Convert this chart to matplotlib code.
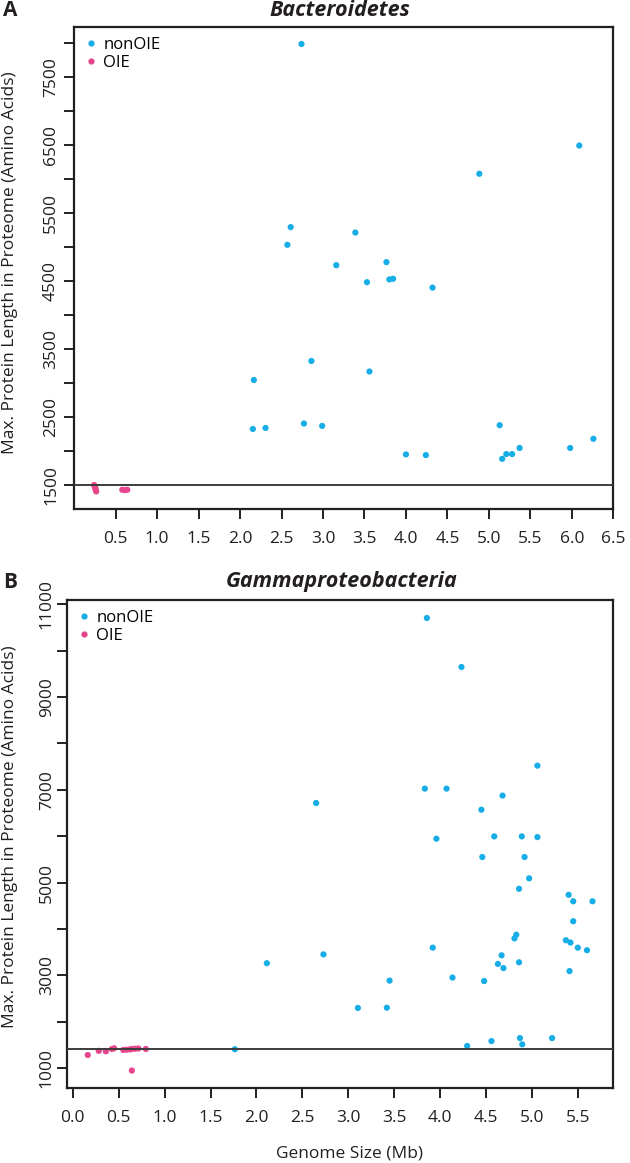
import matplotlib
matplotlib.use("Agg")
import matplotlib.pyplot as plt
from matplotlib.lines import Line2D

plt.rcParams['font.family'] = ['Open Sans', 'DejaVu Sans']

# ---------------- data ----------------
bact_non_x = [2.74, 6.09, 4.885, 2.61, 2.57, 3.39, 3.16, 3.765, 3.53, 3.80, 3.845, 4.32,
              2.86, 3.56, 2.166, 2.154, 2.307, 2.77, 2.99, 4.00, 4.24, 5.13, 5.16, 5.21,
              5.28, 5.37, 5.98, 6.26]
bact_non_y = [7990, 6495, 6080, 5295, 5035, 5215, 4735, 4780, 4485, 4525, 4535, 4405,
              3325, 3170, 3045, 2325, 2340, 2405, 2370, 1950, 1940, 2380, 1885, 1955,
              1955, 2045, 2045, 2180]
bact_oie_x = [0.24, 0.25, 0.255, 0.26, 0.265, 0.58, 0.61, 0.64]
bact_oie_y = [1500, 1475, 1450, 1425, 1405, 1430, 1425, 1430]
bact_threshold = 1500

gamma_non_x = [3.856, 4.233, 5.06, 3.834, 4.07, 4.68, 2.65, 4.45, 3.96, 4.59, 4.89, 5.06,
               4.46, 4.92, 4.97, 4.86, 5.40, 5.45, 5.66, 5.45, 4.83, 4.81, 5.37, 5.42,
               5.50, 5.60, 3.92, 2.73, 4.67, 4.63, 4.69, 4.86, 5.41, 4.135, 3.45, 4.48,
               3.105, 3.42, 4.87, 5.22, 4.56, 4.295, 4.895, 2.113, 1.765]
gamma_non_y = [10705, 9648, 7520, 7025, 7025, 6875, 6715, 6570, 5945, 5995, 5995, 5980,
               5550, 5550, 5090, 4865, 4735, 4595, 4595, 4165, 3875, 3795, 3755, 3705,
               3595, 3540, 3595, 3450, 3430, 3245, 3155, 3280, 3090, 2950, 2885, 2875,
               2295, 2300, 1645, 1645, 1580, 1475, 1510, 3260, 1405]
gamma_oie_x = [0.163, 0.283, 0.36, 0.425, 0.45, 0.55, 0.585, 0.62, 0.645, 0.68, 0.715, 0.795, 0.643]
gamma_oie_y = [1280, 1370, 1360, 1410, 1425, 1390, 1395, 1400, 1410, 1415, 1420, 1410, 945]
gamma_threshold = 1416

bact_xticks = [0.5, 1.0, 1.5, 2.0, 2.5, 3.0, 3.5, 4.0, 4.5, 5.0, 5.5, 6.0, 6.5]
bact_yticks = list(range(1500, 8001, 500))
bact_ylabels = [1500, 2500, 3500, 4500, 5500, 6500, 7500]
gamma_xticks = [0.0, 0.5, 1.0, 1.5, 2.0, 2.5, 3.0, 3.5, 4.0, 4.5, 5.0, 5.5]
gamma_yticks = list(range(1000, 11001, 1000))
gamma_ylabels = [1000, 3000, 5000, 7000, 9000, 11000]

BLUE = "#17ade6"
PINK = "#e8458f"
BLACK = "#231f20"
LINEC = "#3c3c3c"

W, H = 630, 1163
fig = plt.figure(figsize=(W / 100, H / 100), dpi=100)

def px_ax(l, r, t, b):
    return fig.add_axes([l / W, 1 - b / H, (r - l) / W, (b - t) / H])

axA = px_ax(74.2, 613.3, 27, 509)
axB = px_ax(67.3, 612.7, 600, 1087.7)

def style(ax, xticks, yticks, ylabels, xlim, ylim, ypad):
    ax.set_xlim(*xlim)
    ax.set_ylim(*ylim)
    ax.set_xticks(xticks)
    ax.set_xticklabels([f"{v:.1f}" for v in xticks])
    ax.set_yticks(yticks)
    ax.set_yticklabels([str(v) if v in ylabels else "" for v in yticks])
    for s in ax.spines.values():
        s.set_linewidth(1.6)
        s.set_color(BLACK)
    ax.tick_params(axis='both', direction='out', length=7, width=1.4, color=BLACK,
                   labelsize=12.5, labelcolor=BLACK)
    ax.tick_params(axis='x', pad=9)
    ax.tick_params(axis='y', pad=ypad, labelrotation=90)
    for lab in ax.get_yticklabels():
        lab.set_va('center')
        lab.set_ha('right')

def draw(ax, nx, ny, ox, oy, thr):
    ax.scatter(nx, ny, s=20, color=BLUE, edgecolors='none', zorder=3)
    ax.scatter(ox, oy, s=20, color=PINK, edgecolors='none', zorder=3)
    ax.axhline(thr, color=LINEC, lw=1.4, zorder=4)
    handles = [Line2D([], [], ls='none', marker='o', ms=4.5, mfc=BLUE, mec='none'),
               Line2D([], [], ls='none', marker='o', ms=4.5, mfc=PINK, mec='none')]
    ax.legend(handles, ["nonOIE", "OIE"], loc='upper left', frameon=False,
              fontsize=12, handlelength=0.8, handletextpad=0.35, labelspacing=0.12,
              borderaxespad=0.3, bbox_to_anchor=(0.0, 1.0), borderpad=0.3)

draw(axA, bact_non_x, bact_non_y, bact_oie_x, bact_oie_y, bact_threshold)
style(axA, bact_xticks, bact_yticks, bact_ylabels, (0, 6.5), (1147, 8240), 4)
draw(axB, gamma_non_x, gamma_non_y, gamma_oie_x, gamma_oie_y, gamma_threshold)
style(axB, gamma_xticks, gamma_yticks, gamma_ylabels, (-0.06, 5.88), (575, 11093), 2)

ylab = "Max. Protein Length in Proteome (Amino Acids)"
fig.text(10 / W, 1 - 263 / H, ylab, rotation=90, ha='center', va='center', fontsize=12.5, color=BLACK)
fig.text(10 / W, 1 - 837 / H, ylab, rotation=90, ha='center', va='center', fontsize=12.5, color=BLACK)
fig.text(350 / W, 1 - 1153 / H, "Genome Size (Mb)", ha='center', va='center', fontsize=12.5, color=BLACK)

fig.text(340 / W, 1 - 11 / H, "Bacteroidetes", ha='center', va='center', fontsize=15.5,
         fontweight='bold', fontstyle='italic', color=BLACK)
fig.text(342 / W, 1 - 582 / H, "Gammaproteobacteria", ha='center', va='center', fontsize=15.5,
         fontweight='bold', fontstyle='italic', color=BLACK)
fig.text(3 / W, 1 - 11 / H, "A", ha='left', va='center', fontsize=15, fontweight='bold', color=BLACK)
fig.text(3 / W, 1 - 582 / H, "B", ha='left', va='center', fontsize=15, fontweight='bold', color=BLACK)

fig.savefig("out.png", dpi=100, facecolor='white')
